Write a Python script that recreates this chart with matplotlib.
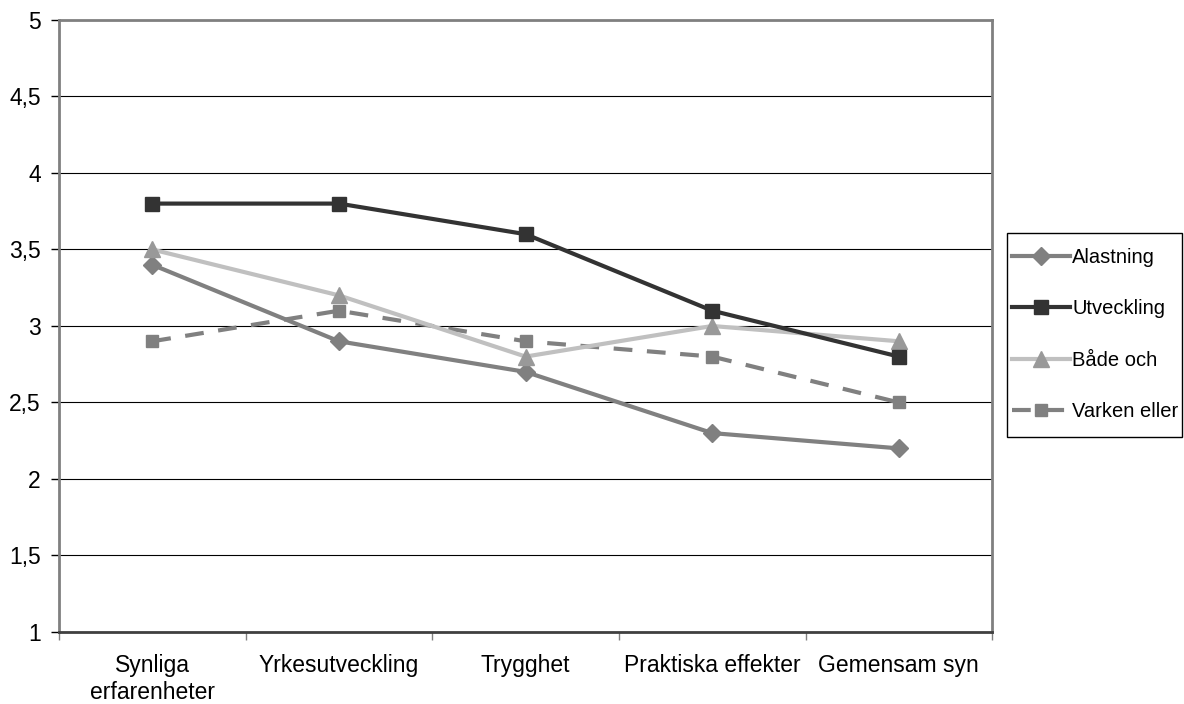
import matplotlib
matplotlib.use("Agg")
import matplotlib.pyplot as plt
from matplotlib.patches import Rectangle
from matplotlib.ticker import FuncFormatter, FixedLocator
import numpy as np

plt.rcParams["font.family"] = ["Liberation Sans", "DejaVu Sans"]

categories = ["Synliga\nerfarenheter", "Yrkesutveckling", "Trygghet",
              "Praktiska effekter", "Gemensam syn"]
alastning = [3.4, 2.9, 2.7, 2.3, 2.2]
utveckling = [3.8, 3.8, 3.6, 3.1, 2.8]
bade_och = [3.5, 3.2, 2.8, 3.0, 2.9]
varken_eller = [2.9, 3.1, 2.9, 2.8, 2.5]

W, H = 1184, 704
fig = plt.figure(figsize=(W / 100, H / 100), dpi=100)
ax = fig.add_axes([0.0498, 0.1023, 0.7882, 0.8693])

x = np.arange(len(categories))
ax.plot(x, alastning, color="#808080", lw=3, marker="D", ms=9,
        mfc="#808080", mec="#808080", label="Alastning", zorder=3)
ax.plot(x, utveckling, color="#333333", lw=3, marker="s", ms=10,
        mfc="#333333", mec="#333333", label="Utveckling", zorder=4)
ax.plot(x, bade_och, color="#c0c0c0", lw=3, marker="^", ms=11,
        mfc="#999999", mec="#999999", label="Både och", zorder=3)
ax.plot(x, varken_eller, color="#808080", lw=3, ls=(0, (4.5, 3.5)), marker="s", ms=9,
        mfc="#808080", mec="#808080", label="Varken eller", zorder=2)

ax.set_xlim(-0.5, 4.5)
ax.set_ylim(1, 5)
ax.set_yticks(np.arange(1, 5.01, 0.5))
ax.yaxis.set_major_formatter(FuncFormatter(lambda v, p: f"{v:g}".replace(".", ",")))
ax.grid(axis="y", color="black", lw=0.8)
ax.set_axisbelow(True)

ax.xaxis.set_major_locator(FixedLocator(np.arange(-0.5, 4.6, 1)))
ax.xaxis.set_major_formatter(FuncFormatter(lambda v, p: ""))
ax.set_xticks(x, minor=True)
ax.set_xticklabels(categories, minor=True, fontsize=16.5)
ax.tick_params(axis="x", which="minor", length=0, pad=16)
ax.tick_params(axis="x", which="major", length=6, width=1, color="#808080")
ax.tick_params(axis="y", length=6, width=1, color="black", labelsize=16.5, pad=7)

for side in ["top", "left", "right"]:
    ax.spines[side].set_color("#808080")
    ax.spines[side].set_linewidth(2)
ax.spines["bottom"].set_color("#404040")
ax.spines["bottom"].set_linewidth(2)

# legend without own frame, box drawn separately (Excel-style padding)
leg = fig.legend(loc="center left", bbox_to_anchor=(1012 / W, 1 - 334.5 / H),
                 fontsize=14.5, frameon=False,
                 handlelength=2.9, labelspacing=1.6, borderpad=0.0,
                 handletextpad=0.1, borderaxespad=0)
fig.add_artist(Rectangle((1007 / W, 1 - 437 / H), 175 / W, 204 / H,
                         transform=fig.transFigure, fill=False,
                         edgecolor="black", lw=1))

fig.savefig("out.png", dpi=100)
